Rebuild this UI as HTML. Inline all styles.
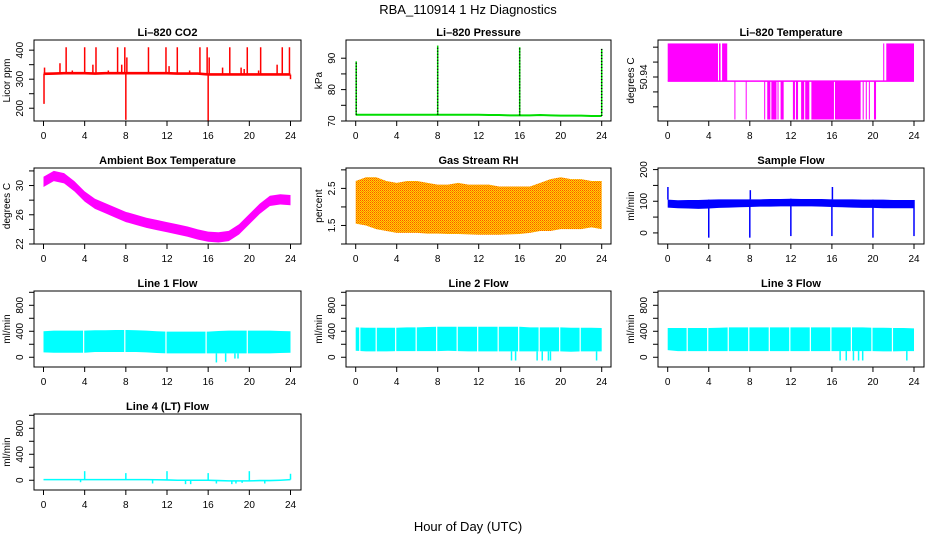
<!DOCTYPE html>
<html><head><meta charset="utf-8"><style>
html,body{margin:0;padding:0;background:#fff}
svg{display:block;font-family:"Liberation Sans",sans-serif}
</style></head><body>
<svg id="fig" width="936" height="540" viewBox="0 0 936 540">
<defs>
<pattern id="rhpat" width="2" height="2" patternUnits="userSpaceOnUse">
<rect width="2" height="2" fill="#ffd400"/><rect width="1" height="1" fill="#ff5000"/><rect x="1" y="1" width="1" height="1" fill="#ff8000"/>
</pattern>
</defs>
<text x="468" y="14" text-anchor="middle" font-size="13">RBA_110914  1 Hz Diagnostics</text>
<text x="468" y="531" text-anchor="middle" font-size="13">Hour of Day (UTC)</text>
</svg>
<script>
// ---- data ----
const hours = [0,1,2,3,4,5,6,7,8,9,10,11,12,13,14,15,16,17,18,19,20,21,22,23,24];
const xTicks = [0,4,8,12,16,20,24];
// CO2
const co2Base = [318,319,320,320,320,319,320,320,320,320,320,320,320,319,319,319,316,316,316,316,316,316,316,316,316];
const co2SpikeT = [0.05,0.1,1.6,2.2,2.8,4.0,4.8,5.1,6.3,7.2,7.6,7.9,8.0,8.1,10.2,11.9,12.2,13.0,14.2,15.2,15.9,16.0,16.1,17.4,18.1,19.2,19.5,19.8,20.9,21.1,22.7,23.2,23.9,24.0];
const co2SpikeV = [215,340,355,410,330,410,350,410,330,410,350,410,160,375,410,410,345,410,330,410,410,155,375,340,410,340,335,410,330,410,350,410,410,300];
// Li-820 pressure
const presBase = [72,72,72,72,72,72,72,72,72,72,72,72,72,71.9,71.9,71.8,71.8,71.8,71.9,71.8,71.7,71.7,71.7,71.6,71.6];
const presSpikeT = [0.05,8.0,16.0,24.0];
const presSpikeV = [89,94,93.5,93];
// Li-820 temperature
const ltLevels = [50.9625,50.9372,50.9115];
const ltUpper = [[0,4.9],[5.0,5.15],[5.3,5.8],[21,21.1],[21.3,24]];
const ltLower = [[6.5,6.55],[7.6,7.65],[9.4,9.5],[9.7,10.0],[10.1,10.6],[10.7,10.8],[11.0,11.3],[12.2,12.4],[12.5,12.7],[13.0,13.3],[13.4,13.8],[14.0,16.2],[16.3,18.8],[19.0,19.1],[19.3,19.4],[19.6,19.7],[20.1,20.3]];
// Ambient box temp
const ambCenter = [30.5,31.3,31.0,29.9,28.5,27.5,26.9,26.3,25.7,25.3,24.9,24.6,24.3,24.0,23.7,23.3,23.0,22.9,23.1,24.0,25.4,26.8,27.9,28.1,28.0];
const ambHalf = 0.7;
// Gas stream RH
const rhUpper = [2.7,2.8,2.8,2.7,2.65,2.7,2.7,2.65,2.6,2.6,2.65,2.6,2.6,2.6,2.55,2.55,2.55,2.55,2.65,2.75,2.8,2.75,2.75,2.7,2.7];
const rhLower = [1.55,1.5,1.4,1.35,1.3,1.3,1.3,1.28,1.28,1.27,1.27,1.26,1.25,1.25,1.25,1.26,1.27,1.3,1.35,1.35,1.4,1.4,1.4,1.45,1.4];
// Sample flow
const sfUpper = [105,103,104,104,105,106,106,106,106,106,107,107,108,107,107,107,106,106,106,105,105,105,104,104,104];
const sfLower = [80,78,77,76,77,79,80,81,82,83,83,84,84,84,84,83,82,81,80,79,79,78,78,78,78];
const sfSpikeT = [0.02,4.0,8.0,12.0,16.0,20.0,24.0,8.05,16.05];
const sfSpikeV = [145,-15,-15,-10,-10,-15,-10,135,145];
// Line flows
const l1Upper = [400,410,410,410,410,415,415,420,420,415,410,400,395,395,395,395,395,405,410,410,410,410,410,405,400];
const l1Lower = [75,70,70,70,70,80,80,80,80,80,75,65,60,60,60,60,60,60,60,60,60,60,60,65,70];
const l1GapT = [3.9,7.9,11.9,15.8,19.8];
const l1DipT = [16.8,17.7,18.6,18.9];
const l1DipV = [-80,-70,-20,-20];
const l2Upper = [460,455,455,455,455,460,460,465,470,470,470,470,470,470,470,470,470,460,460,460,460,455,455,455,450];
const l2Lower = [100,90,90,90,95,95,95,95,95,100,95,90,90,90,90,90,90,90,90,90,90,85,90,90,90];
const l2GapT = [0.4,2.0,3.9,5.9,7.9,9.9,11.9,13.9,15.9,17.9,19.9,21.9];
const l2DipT = [15.2,15.6,17.7,18.2,18.8,19.0,23.5];
const l2DipV = [-50,-50,-50,-50,-50,-50,-50];
const l3Upper = [450,450,450,450,450,455,460,460,460,460,460,460,460,460,460,460,460,460,460,460,455,455,450,450,445];
const l3Lower = [110,95,95,95,95,95,95,95,95,95,95,95,95,95,95,95,95,95,95,95,95,90,90,95,95];
const l3GapT = [1.9,3.9,5.9,7.9,9.9,11.9,13.9,15.9,17.9,19.9,21.9];
const l3DipT = [16.8,17.4,18.1,18.6,19.0,23.3];
const l3DipV = [-50,-50,-50,-50,-50,-50];
const l4Base = [10,10,10,10,10,10,10,10,10,10,10,8,5,0,0,0,0,-5,-10,-10,-10,-5,-5,0,10];
const l4SpikeT = [4.0,8.0,12.0,16.0,20.0,24.0,3.6,10.6,13.8,14.3,16.8,18.3,18.7,19.3,21.5];
const l4SpikeV = [140,110,140,110,140,100,-30,-50,-60,-60,-50,-60,-50,-40,-50];
const flowTicks = [0,200,400,600,800,1000];
const flowLabels = ['0','','400','','800',''];

// ---- layout ----
const NS = 'http://www.w3.org/2000/svg';
const svg = document.getElementById('fig');
const cols = [{l:34,r:301,x0:43.5,x24:290.5},{l:346,r:611,x0:355.7,x24:601.7},{l:658,r:924,x0:667.7,x24:914}];
const rows = [{t:40,b:121},{t:168,b:244},{t:291,b:367},{t:414,b:490}];
function mk(tag, attrs, parent){const e=document.createElementNS(NS,tag);for(const k in attrs)e.setAttribute(k,attrs[k]);(parent||svg).appendChild(e);return e;}

function panel(name, title, ylab, c, r, yMin, yMax, ticks, labels){
  const C=cols[c], R=rows[r];
  const g=mk('g',{});
  
  
  const X=h=>C.x0+(C.x24-C.x0)*h/24;
  const Y=v=>R.b-(v-yMin)/(yMax-yMin)*(R.b-R.t);
  const plot=mk('g',{},g);
  
  
  const box=mk('rect',{x:C.l,y:R.t,width:C.r-C.l,height:R.b-R.t,fill:'none',stroke:'#000','stroke-width':1},g);
  
  
  const t=mk('text',{x:(C.l+C.r)/2,y:R.t-4,'text-anchor':'middle','font-size':11,'font-weight':'bold'},g);
  t.textContent=title;
  
  
  const xa=mk('g',{},g);
  
  
  mk('line',{x1:X(0),x2:X(24),y1:R.b,y2:R.b,stroke:'#000'},xa);
  xTicks.forEach(h=>{
    mk('line',{x1:X(h),x2:X(h),y1:R.b,y2:R.b+5,stroke:'#000'},xa);
    const tx=mk('text',{x:X(h),y:R.b+18,'text-anchor':'middle','font-size':10},xa);
    tx.textContent=h;
  });
  const ya=mk('g',{},g);
  
  
  const vis=ticks.filter(v=>Y(v)>=R.t-0.5&&Y(v)<=R.b+0.5);
  mk('line',{x1:C.l,x2:C.l,y1:Y(vis[0]),y2:Y(vis[vis.length-1]),stroke:'#000'},ya);
  ticks.forEach((v,i)=>{
    const y=Y(v); if(y<R.t-0.5||y>R.b+0.5) return;
    mk('line',{x1:C.l-5,x2:C.l,y1:y,y2:y,stroke:'#000'},ya);
    if(labels[i]){
      const tx=mk('text',{x:C.l-11,y:y,'text-anchor':'middle','font-size':10,transform:`rotate(-90 ${C.l-11} ${y})`},ya);
      tx.textContent=labels[i];
    }
  });
  const yl=mk('text',{x:C.l-24,y:(R.t+R.b)/2,'text-anchor':'middle','font-size':10,transform:`rotate(-90 ${C.l-24} ${(R.t+R.b)/2})`},g);
  yl.textContent=ylab;
  
  
  return {X,Y,plot};
}
function band(p, upper, lower, fill){
  let d='M'+hours.map((h,i)=>p.X(h)+','+p.Y(upper[i])).join('L');
  d+='L'+hours.slice().reverse().map((h,j)=>p.X(h)+','+p.Y(lower[hours.length-1-j])).join('L')+'Z';
  const e=mk('path',{d,fill,stroke:'none'},p.plot);
  
  
}
function interp(arr,h){const i=Math.min(23,Math.floor(h));const f=h-i;return arr[i]*(1-f)+arr[i+1]*f;}
function spikes(p, ts, vs, base, color, dash){
  ts.forEach((h,i)=>{
    const e=mk('line',{x1:p.X(h),x2:p.X(h),y1:p.Y(interp(base,h)),y2:p.Y(vs[i]),stroke:color,'stroke-width':1.5},p.plot);
    if(dash) e.setAttribute('stroke-dasharray',dash);
    
    
  });
}
function gaps(p, ts, upper){
  ts.forEach(h=>{
    const e=mk('line',{x1:p.X(h),x2:p.X(h),y1:p.Y(interp(upper,h))-1,y2:p.Y(-100),stroke:'#fff','stroke-width':1.2},p.plot);
    
    
  });
}
function line(p, vals, color, w){
  const e=mk('polyline',{points:hours.map((h,i)=>p.X(h)+','+p.Y(vals[i])).join(' '),fill:'none',stroke:color,'stroke-width':w||1},p.plot);
  
  
}

let p=panel('co2','Li–820 CO2','Licor ppm',0,0,156,435,[200,250,300,350,400],['200','','300','','400']);
band(p,co2Base.map(v=>v+5),co2Base.map(v=>v-4),'#ff0000');
spikes(p,co2SpikeT,co2SpikeV,co2Base,'#ff0000');

p=panel('pressure','Li–820 Pressure','kPa',1,0,70,95.8,[70,75,80,85,90],['70','','80','','90']);
line(p,presBase,'#00dd00',2);
spikes(p,presSpikeT,presSpikeV,presBase,'#00dd00');
spikes(p,presSpikeT,presSpikeV,presBase,'#000','1,2');

p=panel('li820-temp','Li–820 Temperature','degrees C',2,0,50.9105,50.9648,[50.91,50.92,50.93,50.94,50.95,50.96],['50.91','','','50.94','','']);
ltUpper.forEach(iv=>{const e=mk('rect',{x:p.X(iv[0]),y:p.Y(ltLevels[0]),width:Math.max(1,p.X(iv[1])-p.X(iv[0])),height:p.Y(ltLevels[1])-p.Y(ltLevels[0]),fill:'#ff00ff'},p.plot);});
ltLower.forEach(iv=>{const e=mk('rect',{x:p.X(iv[0]),y:p.Y(ltLevels[1]),width:Math.max(1,p.X(iv[1])-p.X(iv[0])),height:p.Y(ltLevels[2])-p.Y(ltLevels[1]),fill:'#ff00ff'},p.plot);});
{const e=mk('line',{x1:p.X(0),x2:p.X(24),y1:p.Y(ltLevels[1]),y2:p.Y(ltLevels[1]),stroke:'#ff00ff','stroke-width':1.5},p.plot);}

p=panel('ambient-temp','Ambient Box Temperature','degrees C',0,1,22,32.4,[22,24,26,28,30,32],['22','','26','','30','']);
band(p,ambCenter.map(v=>v+ambHalf),ambCenter.map(v=>v-ambHalf),'#ff00ff');

p=panel('gas-rh','Gas Stream RH','percent',1,1,1.0,3.05,[1.0,1.5,2.0,2.5,3.0],['','1.5','','2.5','']);
band(p,rhUpper,rhLower,'url(#rhpat)');

p=panel('sample-flow','Sample Flow','ml/min',2,1,-35,205,[0,50,100,150,200],['0','','100','','200']);
band(p,sfUpper,sfLower,'#0000ff');
spikes(p,sfSpikeT,sfSpikeV,sfUpper,'#0000ff');

function flowPanel(name,title,c,r,up,lo,gapT,dipT,dipV){
  const q=panel(name,title,'ml/min',c,r,-150,1020,flowTicks,flowLabels);
  band(q,up,lo,'#00ffff');
  if(gapT) gaps(q,gapT,up);
  if(dipT) spikes(q,dipT,dipV,lo,'#00ffff');
  return q;
}
flowPanel('line1-flow','Line 1 Flow',0,2,l1Upper,l1Lower,l1GapT,l1DipT,l1DipV);
flowPanel('line2-flow','Line 2 Flow',1,2,l2Upper,l2Lower,l2GapT,l2DipT,l2DipV);
flowPanel('line3-flow','Line 3 Flow',2,2,l3Upper,l3Lower,l3GapT,l3DipT,l3DipV);
p=panel('line4-flow','Line 4 (LT) Flow','ml/min',0,3,-150,1020,flowTicks,flowLabels);
band(p,l4Base.map(v=>v+12),l4Base.map(v=>v-12),'#00ffff');
spikes(p,l4SpikeT,l4SpikeV,l4Base,'#00ffff');
</script>
</body></html>
